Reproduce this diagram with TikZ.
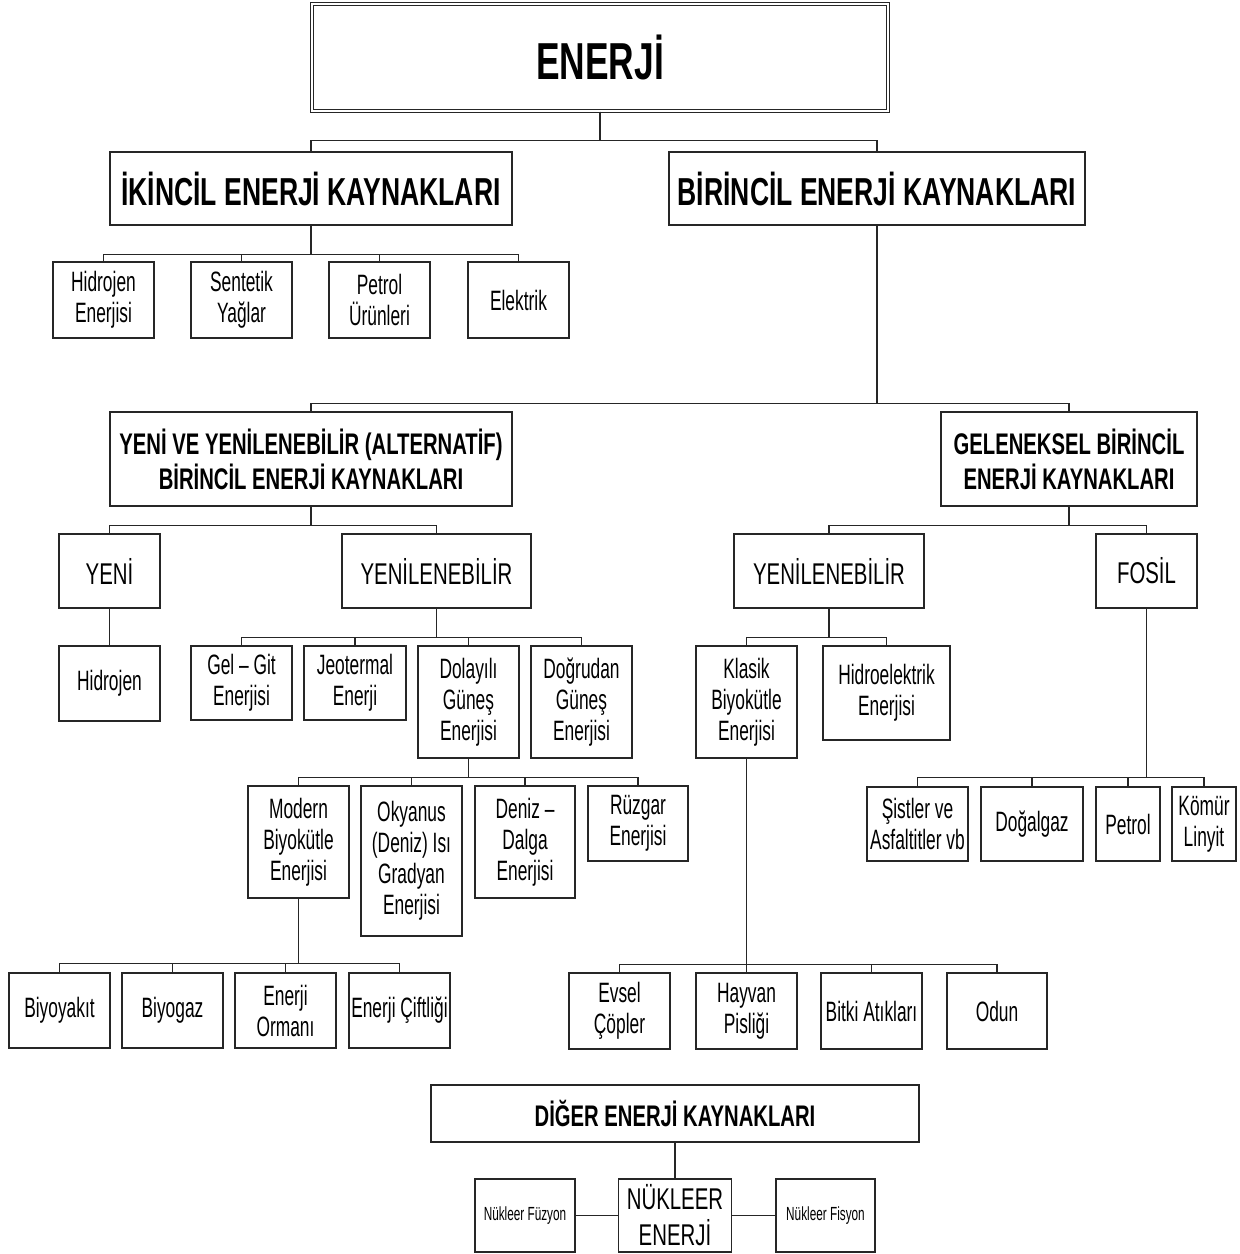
\documentclass[tikz,border=0pt]{standalone}
\usepackage{fontspec}
\setmainfont{Liberation Sans}[FakeStretch=0.68]
\newfontfamily\darfont{Liberation Sans}[FakeStretch=0.62]
\usepackage{tikz}
\usetikzlibrary{calc, positioning}

% yazi boyutlari
\newcommand{\minik}{\darfont\fontsize{19}{23}\selectfont}
\newcommand{\kucuk}{\darfont\fontsize{28}{31}\selectfont}
\newcommand{\orta}{\fontsize{30}{36}\selectfont}
\newcommand{\kalinorta}{\bfseries\fontsize{29.8}{35}\selectfont}
\newcommand{\baslik}{\bfseries\fontsize{39}{46}\selectfont}
\newcommand{\anabaslik}{\bfseries\fontsize{52}{60}\selectfont}

\tikzset{
    kutu/.style={draw=black!85, line width=1.3pt, fill=white, align=center,
        inner sep=0pt, font=\kucuk},
    baglanti/.style={draw=black!85, line width=1.3pt},
}

\begin{document}
\begin{tikzpicture}[x=1pt, y=-1pt]

    \useasboundingbox (0,0) rectangle (1240,1254);

    % =================================================================
    % BÖLÜM 1: ENERJİ VE İKİNCİL / BİRİNCİL KAYNAKLAR
    % =================================================================
    \node[kutu, font=\anabaslik, double=white, double distance=2.4pt, line width=1pt,
        minimum width=576, minimum height=107] (enerji) at (600,57.5) {ENERJİ};

    \node[kutu, font=\baslik, minimum width=402, minimum height=73] (ikincil) at (311,188.5) {İKİNCİL ENERJİ KAYNAKLARI};
    \node[kutu, font=\baslik, minimum width=416, minimum height=73] (birincil) at (877,188.5) {BİRİNCİL ENERJİ KAYNAKLARI};

    % İkincil kaynaklarin alt kutulari
    \node[kutu, minimum width=101, minimum height=76] (hidEn) at (103.5,300) {Hidrojen\\Enerjisi};
    \node[kutu, minimum width=101, minimum height=76] (sentetik) at (241.5,300) {Sentetik\\Yağlar};
    \node[kutu, minimum width=101, minimum height=76] (petUrun) at (379.5,300) {Petrol\\Ürünleri};
    \node[kutu, minimum width=101, minimum height=76] (elektrik) at (518.5,300) {Elektrik};

    \foreach \c in {ikincil, birincil}
        \draw[baglanti] (enerji.south) -- ++(0,29) -| (\c.north);
    \foreach \c in {hidEn, sentetik, petUrun, elektrik}
        \draw[baglanti] (ikincil.south) -- ++(0,29) -| (\c.north);

    % =================================================================
    % BÖLÜM 2: YENİ VE YENİLENEBİLİR / GELENEKSEL
    % =================================================================
    \node[kutu, font=\kalinorta, minimum width=402, minimum height=94] (yeniYen) at (311,459)
        {YENİ VE YENİLENEBİLİR (ALTERNATİF)\\BİRİNCİL ENERJİ KAYNAKLARI};
    \node[kutu, font=\kalinorta, minimum width=256, minimum height=94] (geleneksel) at (1069,459)
        {GELENEKSEL BİRİNCİL\\ENERJİ KAYNAKLARI};

    \foreach \c in {yeniYen, geleneksel}
        \draw[baglanti] (birincil.south) -- ++(0,178) -| (\c.north);

    % Ara basliklar
    \node[kutu, font=\orta, minimum width=101, minimum height=74] (yeni) at (109.5,571) {YENİ};
    \node[kutu, font=\orta, minimum width=189, minimum height=74] (yenA) at (436.5,571) {YENİLENEBİLİR};
    \node[kutu, font=\orta, minimum width=190, minimum height=74] (yenB) at (829,571) {YENİLENEBİLİR};
    \node[kutu, font=\orta, minimum width=101, minimum height=74] (fosil) at (1146.5,571) {FOSİL};

    \foreach \c in {yeni, yenA}
        \draw[baglanti] (yeniYen.south) -- ++(0,19) -| (\c.north);
    \foreach \c in {yenB, fosil}
        \draw[baglanti] (geleneksel.south) -- ++(0,19) -| (\c.north);

    % =================================================================
    % BÖLÜM 3: ÜÇÜNCÜ SEVİYE KUTULAR
    % =================================================================
    \node[kutu, minimum width=101, minimum height=75] (hidrojen) at (109.5,683.5) {Hidrojen};
    \draw[baglanti] (yeni) -- (hidrojen);

    \node[kutu, minimum width=101, minimum height=74] (gelgit) at (241.5,683) {Gel – Git\\Enerjisi};
    \node[kutu, minimum width=102, minimum height=74] (jeotermal) at (355,683) {Jeotermal\\Enerji};
    \node[kutu, minimum width=101, minimum height=112] (dolayli) at (468.5,702) {Dolayılı\\Güneş\\Enerjisi};
    \node[kutu, minimum width=101, minimum height=112] (dogrudan) at (581.5,702) {Doğrudan\\Güneş\\Enerjisi};
    \foreach \c in {gelgit, jeotermal, dolayli, dogrudan}
        \draw[baglanti] (yenA.south) -- ++(0,29) -| (\c.north);

    \node[kutu, minimum width=101, minimum height=112] (klasik) at (746.5,702) {Klasik\\Biyokütle\\Enerjisi};
    \node[kutu, minimum width=127, minimum height=94] (hidroel) at (886.5,693) {Hidroelektrik\\Enerjisi};
    \foreach \c in {klasik, hidroel}
        \draw[baglanti] (yenB.south) -- ++(0,29) -| (\c.north);

    % Fosil yakitlar
    \node[kutu, minimum width=101, minimum height=74] (sistler) at (917.5,824) {Şistler ve\\Asfaltitler vb};
    \node[kutu, minimum width=102, minimum height=74] (dogalgaz) at (1032,824) {Doğalgaz};
    \node[kutu, minimum width=64, minimum height=74] (petrol) at (1128,824) {Petrol};
    \node[kutu, minimum width=64, minimum height=74] (komur) at (1204,824) {Kömür\\Linyit};
    \foreach \c in {sistler, dogalgaz, petrol, komur}
        \draw[baglanti] (fosil.south) -- ++(0,169) -| (\c.north);

    % Dolayli gunes enerjisi alt kutulari
    \node[kutu, minimum width=101, minimum height=112] (modern) at (298.5,842) {Modern\\Biyokütle\\Enerjisi};
    \node[kutu, minimum width=101, minimum height=150] (okyanus) at (411.5,861) {Okyanus\\(Deniz) Isı\\Gradyan\\Enerjisi};
    \node[kutu, minimum width=100, minimum height=112] (deniz) at (525,842) {Deniz –\\Dalga\\Enerjisi};
    \node[kutu, minimum width=100, minimum height=75] (ruzgar) at (638,823.5) {Rüzgar\\Enerjisi};
    \foreach \c in {modern, okyanus, deniz, ruzgar}
        \draw[baglanti] (dolayli.south) -- ++(0,19) -| (\c.north);

    % =================================================================
    % BÖLÜM 4: BİYOKÜTLE ALT KUTULARI
    % =================================================================
    \node[kutu, minimum width=101, minimum height=75] (biyoyakit) at (59.5,1010.5) {Biyoyakıt};
    \node[kutu, minimum width=101, minimum height=75] (biyogaz) at (172.5,1010.5) {Biyogaz};
    \node[kutu, minimum width=101, minimum height=75] (ormani) at (285.5,1010.5) {Enerji\\Ormanı};
    \node[kutu, minimum width=101, minimum height=75] (ciftligi) at (399.5,1010.5) {Enerji Çiftliği};
    \foreach \c in {biyoyakit, biyogaz, ormani, ciftligi}
        \draw[baglanti] (modern.south) -- ++(0,65) -| (\c.north);

    \node[kutu, minimum width=101, minimum height=76] (evsel) at (619.5,1011) {Evsel\\Çöpler};
    \node[kutu, minimum width=101, minimum height=76] (hayvan) at (746.5,1011) {Hayvan\\Pisliği};
    \node[kutu, minimum width=101, minimum height=76] (bitki) at (871.5,1011) {Bitki Atıkları};
    \node[kutu, minimum width=100, minimum height=76] (odun) at (997,1011) {Odun};
    \foreach \c in {evsel, hayvan, bitki, odun}
        \draw[baglanti] (klasik.south) -- ++(0,206) -| (\c.north);

    % =================================================================
    % BÖLÜM 5: DİĞER ENERJİ KAYNAKLARI
    % =================================================================
    \node[kutu, font=\kalinorta, minimum width=488, minimum height=57] (diger) at (675,1113.5) {DİĞER ENERJİ KAYNAKLARI};
    \node[kutu, font=\orta, minimum width=113, minimum height=73] (nukleer) at (675,1215.5) {NÜKLEER\\ENERJİ};
    \node[kutu, font=\minik, minimum width=100, minimum height=73] (fuzyon) at (525,1215.5) {Nükleer Füzyon};
    \node[kutu, font=\minik, minimum width=99, minimum height=73] (fisyon) at (825.5,1215.5) {Nükleer Fisyon};

    \draw[baglanti] (diger) -- (nukleer);
    \draw[baglanti] (fuzyon) -- (nukleer);
    \draw[baglanti] (nukleer) -- (fisyon);

\end{tikzpicture}
\end{document}
